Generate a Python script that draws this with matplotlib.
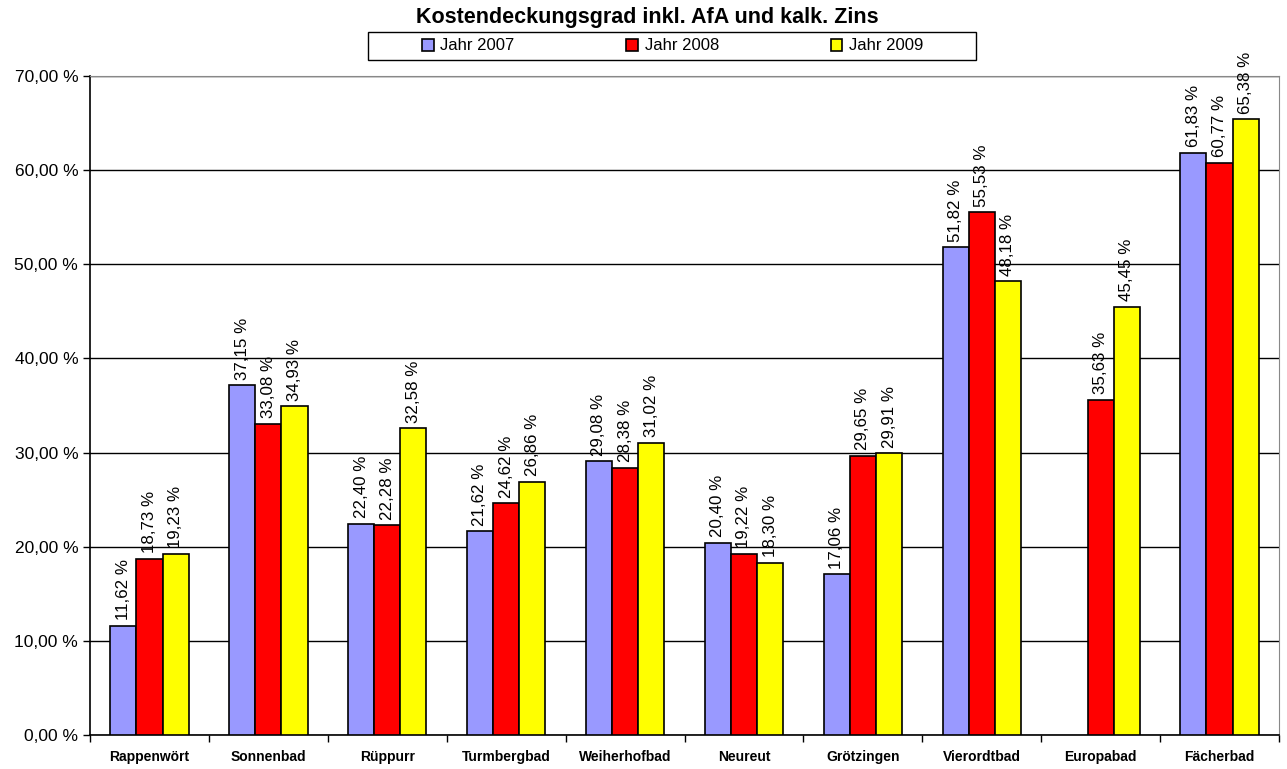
import numpy as np
import matplotlib
matplotlib.use('Agg')
import matplotlib.pyplot as plt
from matplotlib.patches import Rectangle

plt.rcParams['font.family'] = ['Liberation Sans', 'DejaVu Sans']

# data
baeder = ['Rappenwört', 'Sonnenbad', 'Rüppurr', 'Turmbergbad', 'Weiherhofbad',
          'Neureut', 'Grötzingen', 'Vierordtbad', 'Europabad', 'Fächerbad']
jahr_2007 = [11.62, 37.15, 22.40, 21.62, 29.08, 20.40, 17.06, 51.82, np.nan, 61.83]
jahr_2008 = [18.73, 33.08, 22.28, 24.62, 28.38, 19.22, 29.65, 55.53, 35.63, 60.77]
jahr_2009 = [19.23, 34.93, 32.58, 26.86, 31.02, 18.30, 29.91, 48.18, 45.45, 65.38]
serien = ['Jahr 2007', 'Jahr 2008', 'Jahr 2009']
farben = ['#9999FF', '#FF0000', '#FFFF00']

fig = plt.figure(figsize=(12.87, 7.69), dpi=100)
ax = fig.add_axes([90 / 1287, 1 - 735 / 769, 1189 / 1287, 659 / 769])

x = np.arange(len(baeder))
breite = 0.22
for i, (werte, name, farbe) in enumerate(zip([jahr_2007, jahr_2008, jahr_2009], serien, farben)):
    pos = x + (i - 1) * breite
    ax.bar(pos, werte, breite, color=farbe, edgecolor='black', linewidth=1.2,
           label=name, zorder=3)
    for p, w in zip(pos, werte):
        if np.isnan(w):
            continue
        txt = f'{w:.2f} %'.replace('.', ',')
        ax.text(p, w + 0.6, txt, rotation=90, ha='center', va='bottom', fontsize=12.2)

ax.set_xlim(-0.5, len(baeder) - 0.5)
ax.set_ylim(0, 70)
ax.set_yticks(np.arange(0, 71, 10))
ax.set_yticklabels([f'{v:.2f} %'.replace('.', ',') for v in np.arange(0, 71, 10)], fontsize=12.5)
ax.yaxis.grid(True, color='black', linewidth=1.0, zorder=0)

ax.set_xticks(np.arange(-0.5, len(baeder), 1))
ax.set_xticklabels([])
ax.set_xticks(x, minor=True)
ax.set_xticklabels(baeder, minor=True, fontsize=10, fontweight='bold')
ax.tick_params(axis='x', which='minor', length=0, pad=11)
ax.tick_params(axis='x', which='major', length=5, direction='out', width=1)
ax.tick_params(axis='y', length=5, direction='out', width=1)

for s in ['top', 'right']:
    ax.spines[s].set_color('#888888')
for s in ['left', 'bottom']:
    ax.spines[s].set_color('black')
    ax.spines[s].set_linewidth(1.2)

fig.text(416 / 1287, 1 - 18 / 769, 'Kostendeckungsgrad inkl. AfA und kalk. Zins',
         ha='left', va='center', fontsize=15.5, fontweight='bold')

# legend box
fig.patches.append(Rectangle((368 / 1287, 1 - 60 / 769), 608 / 1287, 28 / 769,
                             transform=fig.transFigure, facecolor='white',
                             edgecolor='black', linewidth=1.0))
fig.legend(loc='center left', bbox_to_anchor=(422 / 1287, 1 - 46 / 769), ncol=3,
           frameon=False, fontsize=12, handlelength=0.7, handleheight=0.7,
           handletextpad=0.4, columnspacing=6.7, borderaxespad=0, borderpad=0)

fig.savefig('out.png', dpi=100)
